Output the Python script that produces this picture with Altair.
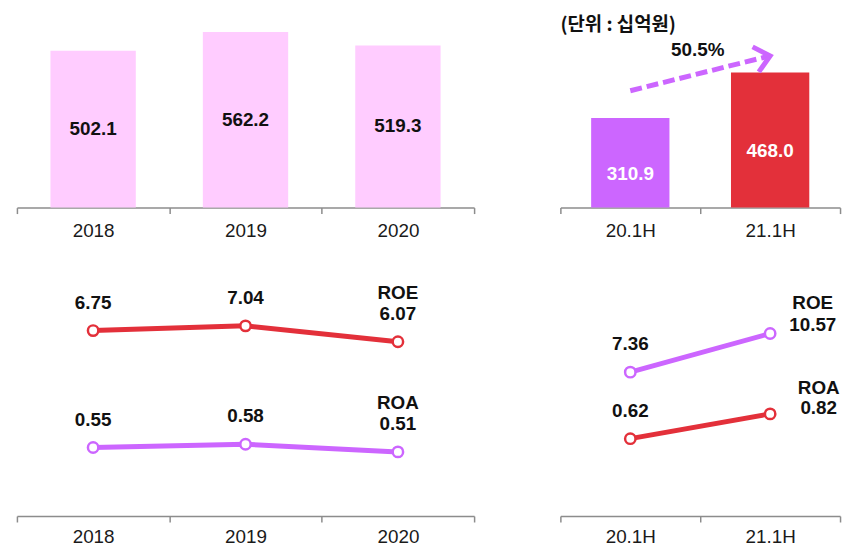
import altair as alt
import pandas as pd

# ---------------- data ----------------
years = ["2018", "2019", "2020"]
annual_profit = [502.1, 562.2, 519.3]

halves = ["20.1H", "21.1H"]
half_profit = [310.9, 468.0]

unit_label = "(단위 : 십억원)"
growth_label = "50.5%"
# growth arrow drawn in the value space of the half-year bar panel
arrow_periods = ["20.1H", "21.1H"]
arrow_values = [405, 526]

roe_annual = [6.75, 7.04, 6.07]
roa_annual = [0.55, 0.58, 0.51]
roe_half = [7.36, 10.57]
roa_half = [0.62, 0.82]

# ---------------- style ----------------
FONT = "Liberation Sans"
KFONT = "Noto Sans CJK KR"
PINK = "#FFCCFF"
PURPLE = "#CC66FF"
RED = "#E3303A"
AXIS_GRAY = "#8C8C8C"


def band_axis(pad):
    return alt.Axis(
        title=None, tickBand="extent", domainColor=AXIS_GRAY, domainWidth=1.5,
        tickColor=AXIS_GRAY, tickWidth=1.5, tickSize=6, labelFont=FONT,
        labelFontSize=19, labelColor="#1a1a1a", labelPadding=pad, labelAngle=0,
        grid=False,
    )


def xenc(order, pad, center=True):
    kw = {"bandPosition": 0.5} if center else {}
    return alt.X(
        "period:N", sort=order,
        scale=alt.Scale(type="band", paddingInner=0, paddingOuter=0),
        axis=band_axis(pad), **kw,
    )


# ---------------- top-left: annual bars ----------------
df_tl = pd.DataFrame({"period": years, "value": annual_profit})
y_tl = alt.Scale(domain=[0, 597])
tl_bars = alt.Chart(df_tl).mark_bar(
    color=PINK, width=alt.RelativeBandSize(0.56)
).encode(
    x=xenc(years, 8, center=False),
    y=alt.Y("value:Q", scale=y_tl, axis=None),
)
tl_text = alt.Chart(df_tl).transform_calculate(mid="datum.value / 2").mark_text(
    font=FONT, fontSize=19, fontWeight="bold", color="#111111"
).encode(
    x=xenc(years, 8),
    y=alt.Y("mid:Q", scale=y_tl, axis=None),
    text=alt.Text("value:Q", format=".1f"),
)
tl = alt.layer(tl_bars, tl_text).properties(width=461, height=188)

# ---------------- top-right: half-year bars ----------------
df_tr = pd.DataFrame({"period": halves, "value": half_profit})
y_tr = alt.Scale(domain=[0, 646])
tr_bars = alt.Chart(df_tr).mark_bar(width=alt.RelativeBandSize(0.56)).encode(
    x=xenc(halves, 8, center=False),
    y=alt.Y("value:Q", scale=y_tr, axis=None),
    color=alt.Color("period:N", scale=alt.Scale(domain=halves, range=[PURPLE, RED]),
                    legend=None),
)
tr_text = alt.Chart(df_tr).transform_calculate(mid="datum.value / 2").mark_text(
    font=FONT, fontSize=19, fontWeight="bold", color="white", dy=11
).encode(
    x=xenc(halves, 8),
    y=alt.Y("mid:Q", scale=y_tr, axis=None),
    text=alt.Text("value:Q", format=".1f"),
)
df_arrow = pd.DataFrame({"period": arrow_periods, "value": arrow_values})
arrow_line = alt.Chart(df_arrow).mark_line(
    color=PURPLE, strokeWidth=5, strokeDash=[12, 5]
).encode(
    x=xenc(halves, 8),
    y=alt.Y("value:Q", scale=y_tr, axis=None),
)
arrow_head = alt.Chart(df_arrow).transform_filter(
    alt.datum.period == arrow_periods[-1]
).mark_point(
    shape="M-1.5,-1.3L0,0L-1.5,1.3", filled=False, stroke=PURPLE, strokeWidth=5,
    size=400, angle=346, opacity=1,
).encode(
    x=xenc(halves, 8),
    y=alt.Y("value:Q", scale=y_tr, axis=None),
)
df_growth = pd.DataFrame({"period": [halves[1]], "value": [arrow_values[1]], "t": [growth_label]})
growth_text = alt.Chart(df_growth).mark_text(
    font=FONT, fontSize=19, fontWeight="bold", color="#111111", dx=-73, dy=-6
).encode(
    x=xenc(halves, 8),
    y=alt.Y("value:Q", scale=y_tr, axis=None),
    text="t:N",
)
unit_text = alt.Chart(pd.DataFrame({"t": [unit_label]})).mark_text(
    font=KFONT, fontSize=19, fontWeight="bold", color="#111111",
    align="left", baseline="middle",
).encode(x=alt.value(0), y=alt.value(4), text="t:N")
tr = alt.layer(tr_bars, tr_text, arrow_line, arrow_head, growth_text, unit_text).properties(
    width=282, height=188
)


# ---------------- bottom: ROE / ROA lines ----------------
def series_layer(order, values, name, color, domain, last_dx, last_dy, name_dy):
    df = pd.DataFrame({"period": order, "value": values, "series": [name] * len(order)})
    ys = alt.Scale(domain=domain)
    y = alt.Y("value:Q", scale=ys, axis=None)
    x = xenc(order, 6)
    line = alt.Chart(df).mark_line(color=color, strokeWidth=5).encode(x=x, y=y)
    pts = alt.Chart(df).mark_point(
        shape="circle", filled=True, fill="white", stroke=color, strokeWidth=2.5,
        size=110, opacity=1,
    ).encode(x=x, y=y)
    lab = alt.Chart(df).transform_filter(alt.datum.period != order[-1]).mark_text(
        font=FONT, fontSize=19, fontWeight="bold", color="#111111", dy=-28
    ).encode(x=x, y=y, text=alt.Text("value:Q", format=".2f"))
    lab_last = alt.Chart(df).transform_filter(alt.datum.period == order[-1]).mark_text(
        font=FONT, fontSize=19, fontWeight="bold", color="#111111", dx=last_dx, dy=last_dy
    ).encode(x=x, y=y, text=alt.Text("value:Q", format=".2f"))
    lab_name = alt.Chart(df).transform_filter(alt.datum.period == order[-1]).mark_text(
        font=FONT, fontSize=19, fontWeight="bold", color="#111111", dx=last_dx, dy=name_dy
    ).encode(x=x, y=y, text="series:N")
    return alt.layer(line, pts, lab, lab_last, lab_name)


bl = alt.layer(
    series_layer(years, roe_annual, "ROE", RED, [-4.58, 9.84], 0, -28, -49),
    series_layer(years, roa_annual, "ROA", PURPLE, [-0.078, 2.086], 0, -28, -49),
).resolve_scale(y="independent").properties(width=461, height=238)

br = alt.layer(
    series_layer(halves, roe_half, "ROE", PURPLE, [-4.58, 15.01], 43, -9, -31),
    series_layer(halves, roa_half, "ROA", RED, [-0.004, 1.90], 49, -6, -26),
).resolve_scale(y="independent").properties(width=282, height=238)

chart = alt.concat(
    tl, tr, bl, br, columns=2, spacing={"row": 73, "column": 87}, bounds="flush"
).resolve_scale(
    x="independent", y="independent", color="independent"
).properties(
    padding={"left": 8, "top": 6, "right": 5, "bottom": 5}, background="white"
).configure_view(stroke=None, strokeWidth=0).configure_axis(grid=False)

chart.save("out.html", embed_options={"renderer": "svg", "actions": False})
